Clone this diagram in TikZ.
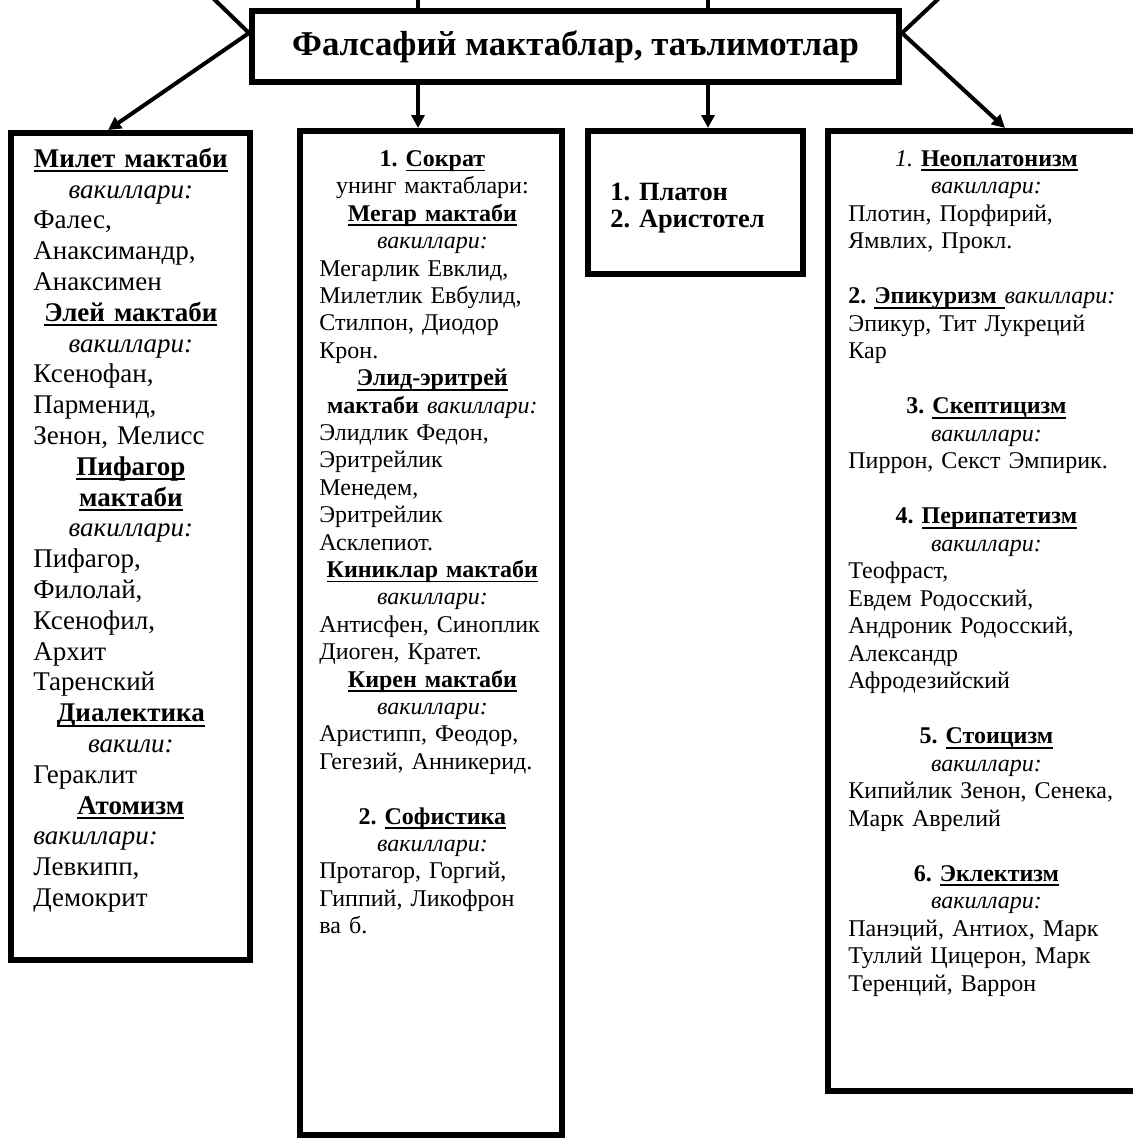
\documentclass[tikz,border=0pt]{standalone}
\usepackage{fontspec}
\setmainfont{Liberation Serif}
\usetikzlibrary{arrows.meta,calc}
\frenchspacing
\newsavebox\undlbox
\newcommand\undl[1]{\sbox\undlbox{#1}\rlap{\rule[-2.4pt]{\wd\undlbox}{0.9pt}}\usebox\undlbox}
\newcommand\ctr[1]{\makebox[\hsize]{#1}}
\newcommand\vak{\textit{вакиллари:}}

\begin{document}
\begin{tikzpicture}[x=0.5pt,y=-0.5pt,>={Triangle[length=6.5pt,width=6.5pt]},
    panel/.style={draw,line width=3pt,inner sep=0pt,anchor=north west},
    boxtext/.style={anchor=north west,inner sep=0pt,align=left,text width=#1},
    link/.style={line width=2pt},
    feed/.style={link,->}]
  \useasboundingbox (0,0) rectangle (1133,1140);
  \clip (0,0) rectangle (1133,1140);
  % title and the four boxes
  \node[panel,anchor=center,minimum width=323.5pt,minimum height=35.5pt,
    font=\fontsize{17.4}{20}\selectfont\bfseries] (title) at (575.5,46.5) {Фалсафий мактаблар, таълимотлар};
  \node[panel,minimum width=119.5pt,minimum height=413.5pt] (milet) at (8,130) {};
  \node[panel,minimum width=131pt,minimum height=502pt] (socrat) at (297,128) {};
  \node[panel,minimum width=107.5pt,minimum height=71.5pt] (platon) at (585,128) {};
  \node[panel,minimum width=169.5pt,minimum height=480pt] (neo) at (825,128) {};
  % box texts
  \node[boxtext=97.5pt,font=\fontsize{13.5}{15.4}\selectfont] (miletT) at ($(milet.north west)+(25,15.4)$) {\strut
    \ctr{\textbf{\undl{Милет мактаби}}}\\
    \ctr{\vak}\\
    Фалес,\\
    Анаксимандр,\\
    Анаксимен\\
    \ctr{\textbf{\undl{Элей мактаби}}}\\
    \ctr{\vak}\\
    Ксенофан,\\
    Парменид,\\
    Зенон, Мелисс\\
    \ctr{\textbf{\undl{Пифагор}}}\\
    \ctr{\textbf{\undl{мактаби}}}\\
    \ctr{\vak}\\
    Пифагор,\\
    Филолай,\\
    Ксенофил,\\
    Архит\\
    Таренский\\
    \ctr{\textbf{\undl{Диалектика}}}\\
    \ctr{\textit{вакили:}}\\
    Гераклит\\
    \ctr{\textbf{\undl{Атомизм}}}\\
    \vak\\
    Левкипп,\\
    Демокрит};
  \node[boxtext=113pt,font=\fontsize{12}{13.7}\selectfont] (socratT) at ($(socrat.north west)+(22,19)$) {\strut
    \ctr{\textbf{1. \undl{Сократ}}}\\
    \ctr{унинг мактаблари:}\\
    \ctr{\textbf{\undl{Мегар мактаби}}}\\
    \ctr{\vak}\\
    Мегарлик Евклид,\\
    Милетлик Евбулид,\\
    Стилпон, Диодор\\
    Крон.\\
    \ctr{\textbf{\undl{Элид-эритрей}}}\\
    \ctr{\textbf{мактаби} \vak}\\
    Элидлик Федон,\\
    Эритрейлик\\
    Менедем,\\
    Эритрейлик\\
    Асклепиот.\\
    \ctr{\textbf{\undl{Киниклар мактаби}}}\\
    \ctr{\vak}\\
    Антисфен, Синоплик\\
    Диоген, Кратет.\\
    \ctr{\textbf{\undl{Кирен мактаби}}}\\
    \ctr{\vak}\\
    Аристипп, Феодор,\\
    Гегезий, Анникерид.\\[\baselineskip]
    \ctr{\textbf{2. \undl{Софистика}}}\\
    \ctr{\vak}\\
    Протагор, Горгий,\\
    Гиппий, Ликофрон\\
    ва б.};
  \node[boxtext=95pt,font=\fontsize{13.2}{13.5}\selectfont\bfseries] (platonT) at ($(platon.north west)+(25,53)$) {\strut
    1. Платон\\
    2. Аристотел};
  \node[boxtext=138pt,font=\fontsize{12}{13.75}\selectfont] (neoT) at ($(neo.north west)+(23,18.8)$) {\strut
    \ctr{\textit{1.} \textbf{\undl{Неоплатонизм}}}\\
    \ctr{\vak}\\
    Плотин, Порфирий,\\
    Ямвлих, Прокл.\\[\baselineskip]
    \textbf{2. \undl{Эпикуризм\ }}\vak\\
    Эпикур, Тит Лукреций\\
    Кар\\[\baselineskip]
    \ctr{\textbf{3. \undl{Скептицизм}}}\\
    \ctr{\vak}\\
    Пиррон, Секст Эмпирик.\\[\baselineskip]
    \ctr{\textbf{4. \undl{Перипатетизм}}}\\
    \ctr{\vak}\\
    Теофраст,\\
    Евдем Родосский,\\
    Андроник Родосский,\\
    Александр\\
    Афродезийский\\[\baselineskip]
    \ctr{\textbf{5. \undl{Стоицизм}}}\\
    \ctr{\vak}\\
    Кипийлик Зенон, Сенека,\\
    Марк Аврелий\\[\baselineskip]
    \ctr{\textbf{6. \undl{Эклектизм}}}\\
    \ctr{\vak}\\
    Панэций, Антиох, Марк\\
    Туллий Цицерон, Марк\\
    Теренций, Варрон};
  % connectors
  \coordinate (stubA) at (418,-20);
  \coordinate (stubB) at (708,-20);
  \coordinate (stubL) at (184,-30);
  \coordinate (stubR) at (969,-30);
  \coordinate (joinL) at ($(title.west)+(0,-13.5)$);
  \coordinate (joinR) at ($(title.east)+(0,-13.5)$);
  \draw[link] (stubA) -- (stubA |- title.north);
  \draw[link] (stubB) -- (stubB |- title.north);
  \draw[link] (stubL) -- (joinL);
  \draw[link] (stubR) -- (joinR);
  \draw[feed] (joinL) -- ([xshift=50pt]milet.north west);
  \draw[feed] (joinR) -- ([xshift=90pt]neo.north west);
  \draw[feed] (stubA |- title.south) -- (stubA |- socrat.north);
  \draw[feed] (stubB |- title.south) -- (stubB |- platon.north);
\end{tikzpicture}
\end{document}
